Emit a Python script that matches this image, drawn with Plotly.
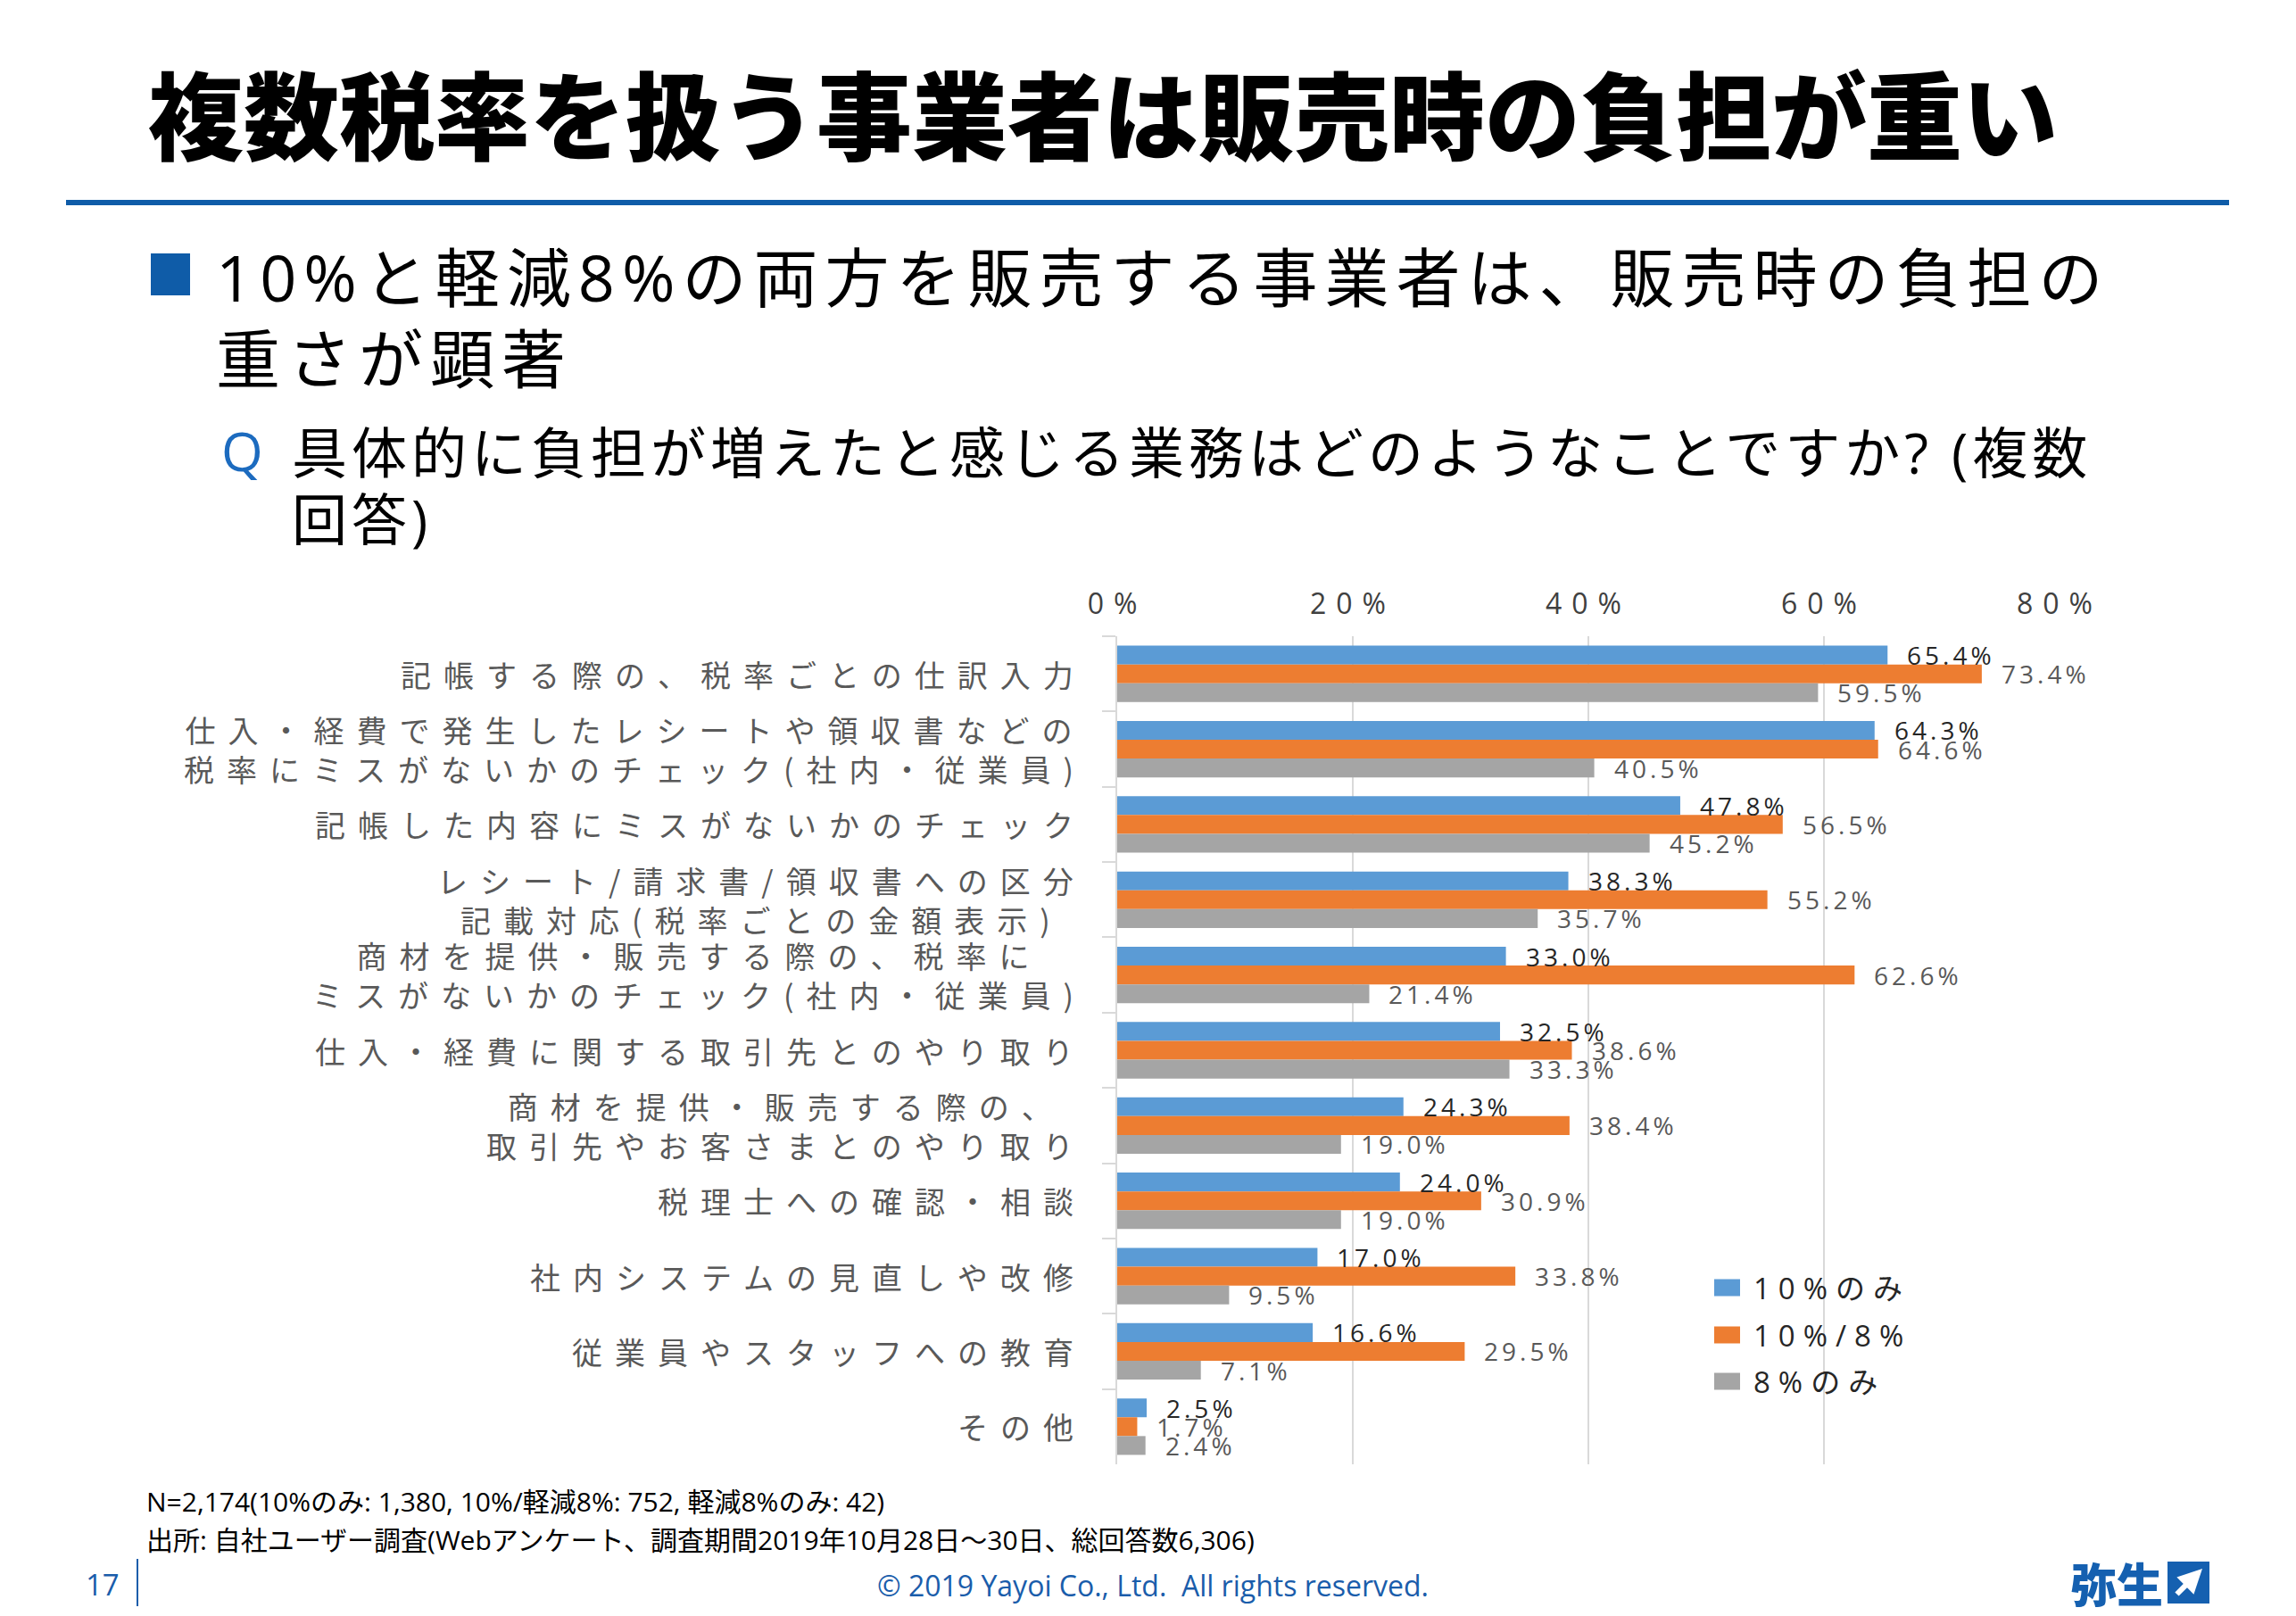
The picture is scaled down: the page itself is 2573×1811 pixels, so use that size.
import json
import plotly.graph_objects as go

# ---------------- data ----------------
categories = [
    "記帳する際の、税率ごとの仕訳入力",
    "仕入・経費で発生したレシートや領収書などの<br>税率にミスがないかのチェック(社内・従業員)",
    "記帳した内容にミスがないかのチェック",
    "レシート/請求書/領収書への区分<br>記載対応(税率ごとの金額表示)",
    "商材を提供・販売する際の、税率に<br>ミスがないかのチェック(社内・従業員)",
    "仕入・経費に関する取引先とのやり取り",
    "商材を提供・販売する際の、<br>取引先やお客さまとのやり取り",
    "税理士への確認・相談",
    "社内システムの見直しや改修",
    "従業員やスタッフへの教育",
    "その他",
]
only10 = [65.4, 64.3, 47.8, 38.3, 33.0, 32.5, 24.3, 24.0, 17.0, 16.6, 2.5]
both10_8 = [73.4, 64.6, 56.5, 55.2, 62.6, 38.6, 38.4, 30.9, 33.8, 29.5, 1.7]
only8 = [59.5, 40.5, 45.2, 35.7, 21.4, 33.3, 19.0, 19.0, 9.5, 7.1, 2.4]
series_names = ["10%のみ", "10%/8%", "8%のみ"]
x_tick_vals = [0, 20, 40, 60, 80]
x_tick_text = ["0%", "20%", "40%", "60%", "80%"]

title_text = "複数税率を扱う事業者は販売時の負担が重い"
body_line1 = "10%と軽減8%の両方を販売する事業者は、販売時の負担の"
body_line2 = "重さが顕著"
q_line1 = "具体的に負担が増えたと感じる業務はどのようなことですか? (複数"
q_line2 = "回答)"
note1 = "N=2,174(10%のみ: 1,380, 10%/軽減8%: 752, 軽減8%のみ: 42)"
note2 = "出所: 自社ユーザー調査(Webアンケート、調査期間2019年10月28日～30日、総回答数6,306)"
copyright_text = "© 2019 Yayoi Co., Ltd.  All rights reserved."
page_no = "17"
logo_text = "弥生"

# ---------------- style ----------------
colors = ["#5B9BD5", "#ED7D31", "#A5A5A5"]
label_colors = ["#262626", "#595959", "#595959"]
JP = "Noto Sans CJK JP"
MIX = "Open Sans, Noto Sans CJK JP"
BLUE = "#0F5CA8"
FOOT_BLUE = "#1A5DAB"

W, H = 2573, 1811
PL, PR, PT, PB = 1252, 2308, 713, 1641


def px(x):
    return (x - PL) / (PR - PL)


def py(y):
    return (PB - y) / (PB - PT)


BARGAP = 0.25
band = (PB - PT) / len(categories)
bar_px = band * (1 - BARGAP) / 3

fig = go.Figure()
for name, vals, col in zip(series_names, [only10, both10_8, only8], colors):
    fig.add_trace(go.Bar(
        y=categories, x=vals, name=name, orientation="h",
        marker=dict(color=col, line=dict(width=0)),
        showlegend=False,
    ))

annotations = []
ls_spec = {}


def add_ann(spacing=None, mode="l", **kw):
    idx = len(annotations)
    kw.setdefault("showarrow", False)
    annotations.append(kw)
    if spacing:
        ls_spec[str(idx)] = [spacing, mode]


# category labels
for cat in categories:
    add_ann(spacing=14, mode="r", x=px(1205), xref="paper", y=cat, yref="y",
            text=cat, xanchor="right", yanchor="middle", align="center",
            font=dict(family=JP, size=34, color="#595959"))

# data labels
shifts = [bar_px, 0, -bar_px]
for vals, lc, sh in zip([only10, both10_8, only8], label_colors, shifts):
    for cat, v in zip(categories, vals):
        add_ann(spacing=4, mode="l", x=v, xref="x", y=cat, yref="y",
                text=f"{v:.1f}%", xanchor="left", yanchor="middle", align="left",
                xshift=20, yshift=sh,
                font=dict(family=MIX, size=28, color=lc))

# legend (manual)
shapes = []
leg_y = [1443, 1496, 1548]
for name, col, yc in zip(series_names, colors, leg_y):
    shapes.append(dict(type="rect", xref="paper", yref="paper",
                       x0=px(1921), x1=px(1950), y0=py(yc + 9.5), y1=py(yc - 9.5),
                       fillcolor=col, line=dict(width=0)))
    add_ann(spacing=9, mode="l", x=px(1963), xref="paper", y=py(yc), yref="paper",
            text=name, xanchor="left", yanchor="middle", align="left",
            font=dict(family=MIX, size=33, color="#262626"))

# title
add_ann(x=px(164), xref="paper", y=py(124), yref="paper", text=title_text,
        xanchor="left", yanchor="middle", align="left",
        font=dict(family=JP, size=107, color="#000000", weight=900))
shapes.append(dict(type="line", xref="paper", yref="paper",
                   x0=px(74), x1=px(2498), y0=py(227), y1=py(227),
                   line=dict(color=BLUE, width=6)))

# bullet & body text
shapes.append(dict(type="rect", xref="paper", yref="paper",
                   x0=px(169), x1=px(213), y0=py(331), y1=py(284),
                   fillcolor=BLUE, line=dict(width=0)))
add_ann(spacing=8, mode="l", x=px(240), xref="paper", y=py(310), yref="paper",
        text=body_line1, xanchor="left", yanchor="middle", align="left",
        font=dict(family=MIX, size=72, color="#000000"))
add_ann(spacing=8, mode="l", x=px(240), xref="paper", y=py(401), yref="paper",
        text=body_line2, xanchor="left", yanchor="middle", align="left",
        font=dict(family=MIX, size=72, color="#000000"))

# question
add_ann(x=px(246), xref="paper", y=py(505), yref="paper", text="Q",
        xanchor="left", yanchor="middle", align="left",
        font=dict(family=MIX, size=60, color="#1C6BBF"))
add_ann(spacing=5, mode="l", x=px(325), xref="paper", y=py(507), yref="paper",
        text=q_line1, xanchor="left", yanchor="middle", align="left",
        font=dict(family=MIX, size=62, color="#000000"))
add_ann(spacing=5, mode="l", x=px(325), xref="paper", y=py(582), yref="paper",
        text=q_line2, xanchor="left", yanchor="middle", align="left",
        font=dict(family=MIX, size=62, color="#000000"))

# notes
add_ann(x=px(162), xref="paper", y=py(1682), yref="paper", text=note1,
        xanchor="left", yanchor="middle", align="left",
        font=dict(family=MIX, size=30, color="#000000"))
add_ann(x=px(162), xref="paper", y=py(1725), yref="paper", text=note2,
        xanchor="left", yanchor="middle", align="left",
        font=dict(family=MIX, size=30, color="#000000"))

# footer
add_ann(x=px(136), xref="paper", y=py(1775), yref="paper", text=page_no,
        xanchor="right", yanchor="middle", align="right",
        font=dict(family=MIX, size=33, color=FOOT_BLUE))
shapes.append(dict(type="line", xref="paper", yref="paper",
                   x0=px(154), x1=px(154), y0=py(1747), y1=py(1800),
                   line=dict(color=FOOT_BLUE, width=2)))
add_ann(x=px(1292), xref="paper", y=py(1776), yref="paper", text=copyright_text,
        xanchor="center", yanchor="middle", align="center",
        font=dict(family=MIX, size=32, color=FOOT_BLUE))
add_ann(x=px(2318), xref="paper", y=py(1773), yref="paper", text=logo_text,
        xanchor="left", yanchor="middle", align="left",
        font=dict(family=JP, size=52, color="#1560B0", weight=900))
shapes.append(dict(type="rect", xref="paper", yref="paper",
                   x0=px(2429), x1=px(2476), y0=py(1797), y1=py(1750),
                   fillcolor="#1560B0", line=dict(width=0)))
annotations.append(dict(x=px(2468), y=py(1758), xref="paper", yref="paper",
                        ax=-30, ay=30, text="", showarrow=True,
                        arrowcolor="white", arrowwidth=6, arrowhead=2,
                        arrowsize=0.9, standoff=0))

fig.update_layout(
    width=W, height=H,
    margin=dict(l=PL, r=W - PR, t=PT, b=H - PB, pad=0, autoexpand=False),
    paper_bgcolor="white", plot_bgcolor="white",
    barmode="group", bargap=BARGAP, bargroupgap=0,
    showlegend=False,
    font=dict(family=MIX),
    annotations=annotations,
    shapes=shapes,
    xaxis=dict(side="top", range=[0, 80], tickmode="array",
               tickvals=x_tick_vals, ticktext=x_tick_text,
               showgrid=True, gridcolor="#D9D9D9", gridwidth=2,
               zeroline=False, showline=False, ticks="",
               tickfont=dict(family=MIX, size=32, color="#404040"),
               ticklabelstandoff=18, fixedrange=True),
    yaxis=dict(type="category", categoryorder="array", categoryarray=categories,
               range=[len(categories) - 0.5, -0.5], showticklabels=False,
               ticks="outside", tickson="boundaries", ticklen=15, tickwidth=2,
               tickcolor="#D9D9D9", showline=True, linecolor="#D9D9D9",
               linewidth=2, showgrid=False, zeroline=False, fixedrange=True),
)

post = """
var gd = document.getElementById('{plot_id}');
document.body.style.margin = '0';
document.body.style.overflow = 'hidden';
var LS = __LS__;
var XLS = 11;
function applyLS(){
  gd.querySelectorAll('g.annotation').forEach(function(g){
    var spec = LS[g.getAttribute('data-index')];
    if(!spec) return;
    var t = g.querySelector('text.annotation-text');
    if(!t || t.getAttribute('data-ls')) return;
    var b0 = t.getBBox();
    var s = spec[0];
    t.setAttribute('letter-spacing', s + 'px');
    t.style.letterSpacing = s + 'px';
    t.setAttribute('data-ls', '1');
    var b1 = t.getBBox();
    var dx = 0;
    if(spec[1] === 'r') dx = (b0.x + b0.width) - (b1.x + b1.width - s);
    else if(spec[1] === 'c') dx = (b0.x + b0.width/2) - (b1.x + (b1.width - s)/2);
    else dx = b0.x - b1.x;
    t.setAttribute('transform', 'translate(' + dx + ',0)');
  });
  gd.querySelectorAll('g.xtick text').forEach(function(t){
    t.setAttribute('letter-spacing', XLS + 'px');
    t.style.letterSpacing = XLS + 'px';
  });
}
applyLS();
gd.on('plotly_afterplot', applyLS);
""".replace("__LS__", json.dumps(ls_spec))

fig.write_html("out.html", post_script=post, config={"displayModeBar": False})
